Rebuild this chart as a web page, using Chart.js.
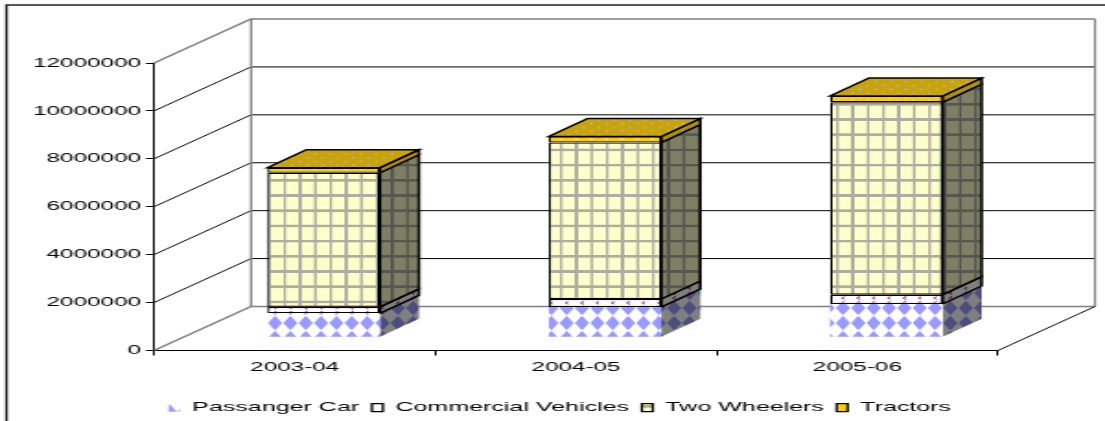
<!DOCTYPE html>
<html>
<head>
<meta charset="utf-8">
<title>Vehicle production</title>
<script src="https://cdn.jsdelivr.net/npm/chart.js@4"></script>
<style>
    html, body { margin: 0; background: #fff; }
</style>
</head>
<body>
<!-- the reference is a horizontally stretched picture, so the canvas is too -->
<canvas id="chart" width="600" height="421" style="display:block;width:1105px;height:421px"></canvas>
<script>
const categories = ['2003-04', '2004-05', '2005-06'];
const passangerCar = [1000000, 1260000, 1390000];
const commercialVehicles = [270000, 340000, 390000];
const twoWheelers = [5600000, 6530000, 8030000];
const tractors = [210000, 250000, 260000];
const yTicks = [0, 2000000, 4000000, 6000000, 8000000, 10000000, 12000000];

const SX = 1105 / 600;          // horizontal stretch of the canvas
const sx = v => v / SX;         // screen px -> canvas px
const WALL = { dx: sx(97), dy: -44 };
const BAR_PLANE = { dx: sx(29), dy: -13.2 };
const BAR_DEPTH = { dx: sx(39), dy: -18 };

// tile sized in screen px, kept square on screen once the canvas is stretched
function makePattern(w, h, ox, oy, draw) {
    const c = document.createElement('canvas');
    c.width = Math.round(sx(w) * 2);
    c.height = Math.round(h * 2);
    const t = c.getContext('2d');
    t.scale(c.width / w, c.height / h);
    draw(t, w, h);
    const p = t.createPattern(c, 'repeat');
    p.setTransform(new DOMMatrix().translate(sx(ox), oy).scale(sx(w) / c.width, h / c.height));
    return p;
}

const ctx = document.getElementById('chart').getContext('2d');

const carFill = makePattern(15.35, 15, 238.3, 328.7, (t, w, h) => {
    t.fillStyle = '#fff';
    t.fillRect(0, 0, w, h);
    t.fillStyle = '#9999ff';
    t.beginPath();
    t.moveTo(w / 2, 0.3);
    t.lineTo(w - 0.6, h / 2);
    t.lineTo(w / 2, h - 0.3);
    t.lineTo(0.6, h / 2);
    t.closePath();
    t.fill();
});

const commercialFill = makePattern(15.35, 4.85, 269, 308.8, (t, w, h) => {
    t.fillStyle = '#fff';
    t.fillRect(0, 0, w, h);
    t.strokeStyle = '#b0407a';
    t.lineWidth = 1.2;
    t.beginPath();
    t.moveTo(w / 2 + 1.5, 0.9);
    t.lineTo(w / 2 - 1, 2.4);
    t.lineTo(w / 2 + 1.5, 3.9);
    t.stroke();
});

const wheelerFill = makePattern(15.35, 15.2, 239, 192.2, (t, w, h) => {
    t.fillStyle = '#ffffcc';
    t.fillRect(0, 0, w, h);
    t.fillStyle = '#aeaea0';
    t.fillRect(0, 0, 2.8, h);
    t.fillRect(0, 0, w, 2.6);
});

const tractorFill = makePattern(15.35, 7.6, 240, 0, (t, w, h) => {
    t.fillStyle = '#ffcc00';
    t.fillRect(0, 0, w, h);
    t.fillStyle = '#dcdcb4';
    t.fillRect(w / 2 - 1.5, h / 2 - 1.2, 3, 2.4);
    t.fillRect(0, 0, 1.5, 1.2);
    t.fillRect(w - 1.5, 0, 1.5, 1.2);
    t.fillRect(0, h - 1.2, 1.5, 1.2);
    t.fillRect(w - 1.5, h - 1.2, 1.5, 1.2);
});

function sideFace(c, x, yTop, yBot, fill, shade, outlined) {
    c.save();
    c.beginPath();
    c.moveTo(x, yTop);
    c.lineTo(x + BAR_DEPTH.dx, yTop + BAR_DEPTH.dy);
    c.lineTo(x + BAR_DEPTH.dx, yBot + BAR_DEPTH.dy);
    c.lineTo(x, yBot);
    c.closePath();
    c.fillStyle = fill;
    c.fill();
    c.fillStyle = 'rgba(0,0,0,' + shade + ')';
    c.fill();
    if (outlined) {
        c.strokeStyle = '#000';
        c.lineWidth = 1.5;
        c.stroke();
    }
    c.restore();
}

function topFace(c, el, fill) {
    const left = el.x - el.width / 2;
    const right = el.x + el.width / 2;
    c.save();
    c.beginPath();
    c.moveTo(left, el.y);
    c.lineTo(right, el.y);
    c.lineTo(right + BAR_DEPTH.dx, el.y + BAR_DEPTH.dy);
    c.lineTo(left + BAR_DEPTH.dx, el.y + BAR_DEPTH.dy);
    c.closePath();
    c.fillStyle = fill;
    c.fill();
    c.fillStyle = 'rgba(0,0,0,0.2)';
    c.fill();
    c.strokeStyle = '#000';
    c.lineWidth = 1.5;
    c.stroke();
    c.restore();
}

const depthPlugin = {
    id: 'depth',
    beforeDraw(chart) {
        // frame of the pasted picture, cut off at the right and bottom
        const c = chart.ctx;
        c.save();
        c.strokeStyle = '#222';
        c.lineWidth = 1.4;
        c.beginPath();
        c.moveTo(sx(6.5), 421);
        c.lineTo(sx(6.5), 5);
        c.lineTo(600, 5);
        c.stroke();
        c.restore();
    },
    beforeDatasetsDraw(chart) {
        const c = chart.ctx;
        const { x, y } = chart.scales;
        const y0 = y.getPixelForValue(0);
        const yMax = y.getPixelForValue(12000000);
        c.save();
        yTicks.forEach(v => {
            const py = y.getPixelForValue(v);
            const edge = v === 0 || v === 12000000;
            c.strokeStyle = edge ? '#808080' : '#000';
            c.lineWidth = edge ? 1.5 : 1;
            c.beginPath();
            c.moveTo(x.left, py);
            c.lineTo(x.left + WALL.dx, py + WALL.dy);
            c.lineTo(x.right + WALL.dx, py + WALL.dy);
            c.stroke();
        });
        c.strokeStyle = '#808080';
        c.lineWidth = 1.2;
        c.beginPath();
        c.moveTo(x.left + WALL.dx, yMax + WALL.dy);
        c.lineTo(x.left + WALL.dx, y0 + WALL.dy);
        c.moveTo(x.right + WALL.dx, yMax + WALL.dy);
        c.lineTo(x.right + WALL.dx, y0 + WALL.dy);
        c.stroke();
        c.strokeStyle = '#000';
        c.lineWidth = 1;
        c.beginPath();
        c.moveTo(x.right, y0);
        c.lineTo(x.right + WALL.dx, y0 + WALL.dy);
        c.stroke();
        c.restore();

        // every mark sits on a plane set back from the front axis
        c.save();
        c.translate(BAR_PLANE.dx, BAR_PLANE.dy);
        chart.data.datasets.forEach((ds, i) => {
            chart.getDatasetMeta(i).data.forEach(el => {
                const right = el.x + el.width / 2;
                const isTop = i === chart.data.datasets.length - 1;
                sideFace(c, right, el.y, el.base, ds.backgroundColor, isTop ? 0.3 : 0.5, i > 0);
                if (isTop) topFace(c, el, ds.backgroundColor);
            });
        });
    },
    afterDatasetsDraw(chart) {
        chart.ctx.restore();
    }
};

const fontFamily = '"Liberation Sans", Arial, sans-serif';
const tickFont = { family: fontFamily, size: 13.2 };
const legendFont = { family: fontFamily, size: 13.6 };

new Chart(ctx, {
    type: 'bar',
    data: {
        labels: categories,
        datasets: [
            { label: 'Passanger Car', data: passangerCar, backgroundColor: carFill, borderWidth: 0 },
            { label: 'Commercial Vehicles', data: commercialVehicles, backgroundColor: commercialFill, borderColor: '#000', borderWidth: 1.3 },
            { label: 'Two Wheelers', data: twoWheelers, backgroundColor: wheelerFill, borderColor: '#000', borderWidth: 1.3 },
            { label: 'Tractors', data: tractors, backgroundColor: tractorFill, borderColor: '#000', borderWidth: 1.3 }
        ]
    },
    options: {
        responsive: false,
        animation: false,
        events: [],
        layout: { padding: { left: 8, right: 0, top: 63, bottom: -3.5 } },
        datasets: {
            bar: { categoryPercentage: 0.4, barPercentage: 1, borderSkipped: false, inflateAmount: 0 }
        },
        plugins: {
            tooltip: { enabled: false },
            legend: {
                position: 'bottom',
                labels: {
                    color: '#000',
                    font: legendFont,
                    boxWidth: sx(11),
                    boxHeight: 8,
                    padding: 6.9
                }
            }
        },
        scales: {
            x: {
                stacked: true,
                afterFit(s) { s.height = 43.5; },
                border: { display: true, color: '#000', width: 1 },
                grid: { drawOnChartArea: false, drawTicks: true, tickLength: 5, tickColor: '#000' },
                ticks: { color: '#000', font: tickFont, padding: 4, maxRotation: 0 }
            },
            y: {
                stacked: true,
                min: 0,
                max: 12000000,
                afterFit(s) { s.width = sx(154) - 8; },
                afterBuildTicks(s) { s.ticks = yTicks.map(v => ({ value: v })); },
                border: { display: true, color: '#000', width: 1 },
                grid: { drawOnChartArea: false, drawTicks: true, tickLength: sx(8), tickColor: '#000' },
                ticks: { color: '#000', font: tickFont, padding: sx(5), callback: v => String(v) }
            },
            // empty axis: only holds the room the depth of the wall needs on the right
            depthRoom: {
                position: 'right',
                afterFit(s) { s.width = 600 - sx(998); },
                border: { display: false },
                grid: { display: false },
                ticks: { display: false }
            }
        }
    },
    plugins: [depthPlugin]
});
</script>
</body>
</html>
